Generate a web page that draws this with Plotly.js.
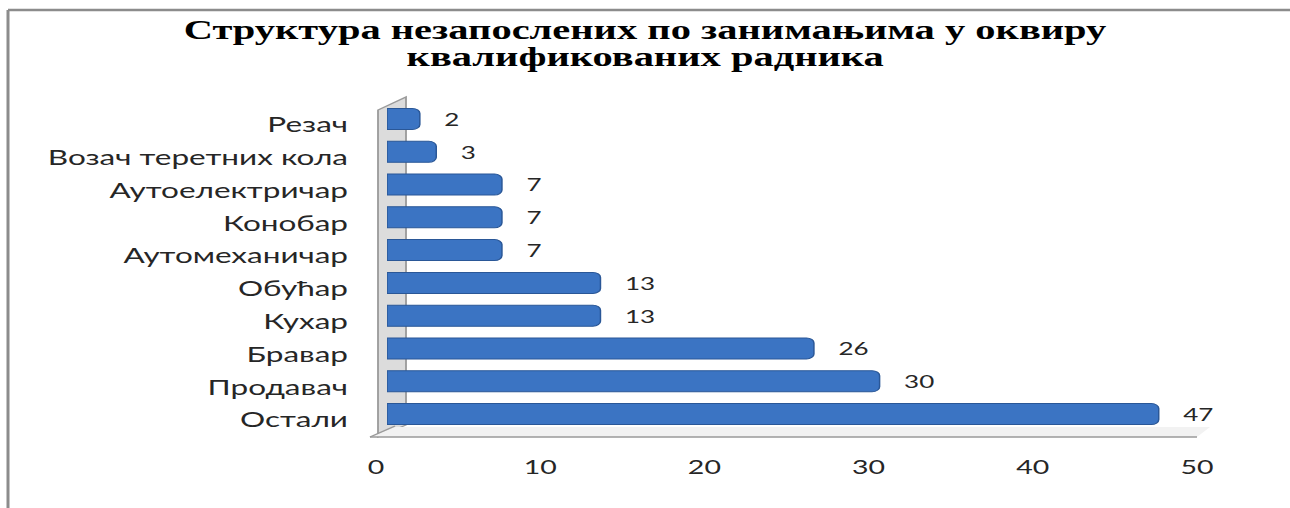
<!DOCTYPE html>
<html>
<head>
<meta charset="utf-8">
<script src="https://cdn.plot.ly/plotly-3.0.1.min.js"></script>
<style>
html, body { margin:0; padding:0; background:#ffffff; overflow:hidden; }
#wrap { width:1290px; height:508px; overflow:hidden; position:relative; }
#chart { width:860px; height:508px; transform: scaleX(1.5); transform-origin: 0 0; }
</style>
</head>
<body>
<div id="wrap"><div id="chart"></div></div>
<script>
// Data (bottom to top)
const categories = ["Остали", "Продавач", "Бравар", "Кухар", "Обућар", "Аутомеханичар", "Конобар", "Аутоелектричар", "Возач теретних кола", "Резач"];
const values = [47, 30, 26, 13, 13, 7, 7, 7, 3, 2];
const tickValues = [0, 10, 20, 30, 40, 50];
const tickLabels = ["0", "10", "20", "30", "40", "50"];
const titleLine1 = "Структура незапослених по занимањима у оквиру";
const titleLine2 = "квалификованих радника";

const W = 860, H = 508;
const px = v => v / 1.5 / W;      // original x pixel -> paper
const py = v => 1 - v / H;        // original y pixel -> paper

const traces = [
  {
    type: "bar",
    orientation: "h",
    x: values,
    y: categories,
    xaxis: "x",
    yaxis: "y",
    marker: { color: "#3b74c3", line: { color: "#2a5797", width: 1 } },
    text: values.map(String),
    texttemplate: "   %{x}",
    textposition: "outside",
    cliponaxis: false,
    textfont: { family: "Lato", size: 19, color: "#262626" },
    hoverinfo: "skip"
  },
  {
    type: "scatter",
    mode: "markers",
    x: [tickValues[0]],
    y: [categories[0]],
    xaxis: "x2",
    yaxis: "y",
    marker: { opacity: 0 },
    hoverinfo: "skip",
    showlegend: false
  }
];

const gray = "#9a9a9a";
const titleFont = { family: "Liberation Serif", size: 27, color: "#000000", weight: "bold" };
const layout = {
  width: W,
  height: H,
  margin: { l: 0, r: 0, t: 0, b: 0 },
  paper_bgcolor: "#ffffff",
  plot_bgcolor: "rgba(0,0,0,0)",
  showlegend: false,
  bargap: 0.36,
  barcornerradius: 5,
  title: {
    text: titleLine1,
    font: titleFont,
    x: 0.5, xanchor: "center",
    y: py(30), yanchor: "middle", yref: "container"
  },
  annotations: [
    { text: titleLine2, xref: "paper", yref: "paper", x: 0.5, y: py(57), xanchor: "center", yanchor: "middle",
      showarrow: false, font: titleFont }
  ],
  xaxis: {
    domain: [px(387), px(387) + 50 * (px(1197) - px(376)) / 50],
    range: [0, 50],
    visible: false,
    fixedrange: true
  },
  xaxis2: {
    domain: [px(376), px(1197)],
    range: [0, 50],
    anchor: "free",
    position: py(437),
    overlaying: false,
    tickvals: tickValues,
    ticktext: tickLabels,
    ticks: "",
    showgrid: false,
    zeroline: false,
    showline: false,
    ticklabelstandoff: 17,
    tickfont: { family: "Lato", size: 19, color: "#262626" }
  },
  yaxis: {
    domain: [py(430.4), py(102.6)],
    type: "category",
    categoryorder: "array",
    categoryarray: categories,
    range: [-0.5, 9.5],
    anchor: "x",
    showgrid: false,
    zeroline: false,
    showline: false,
    ticks: "",
    ticklabelstandoff: 25,
    ticklabelshift: 6,
    tickfont: { family: "Lato", size: 21, color: "#262626" }
  },
  shapes: [
    // frame
    { type: "line", xref: "paper", yref: "paper", x0: px(8), x1: 1, y0: py(10), y1: py(10), line: { color: "#8c8c8c", width: 2.5 } },
    { type: "line", xref: "paper", yref: "paper", x0: px(8), x1: px(8), y0: py(10), y1: 0, line: { color: "#8c8c8c", width: 2 } },
    // back wall
    { type: "path", xref: "paper", yref: "paper", layer: "below",
      path: `M ${px(378)} ${py(437)} L ${px(378)} ${py(110)} L ${px(406)} ${py(97)} L ${px(406)} ${py(425)} Z`,
      fillcolor: "#dcdcdc", line: { color: gray, width: 1.2 } },
    // floor
    { type: "path", xref: "paper", yref: "paper", layer: "below",
      path: `M ${px(370)} ${py(437)} L ${px(1197)} ${py(437)} L ${px(1210)} ${py(427)} L ${px(395)} ${py(427)} Z`,
      fillcolor: "#f2f2f2", line: { color: gray, width: 0 } },
    { type: "line", xref: "paper", yref: "paper", x0: px(370), x1: px(1197), y0: py(437), y1: py(437), line: { color: gray, width: 1.5 } },
    { type: "line", xref: "paper", yref: "paper", x0: px(370), x1: px(395), y0: py(437), y1: py(426), line: { color: gray, width: 1.2 } }
  ]
};

Plotly.newPlot("chart", traces, layout, { displayModeBar: false, staticPlot: true });
</script>
</body>
</html>
